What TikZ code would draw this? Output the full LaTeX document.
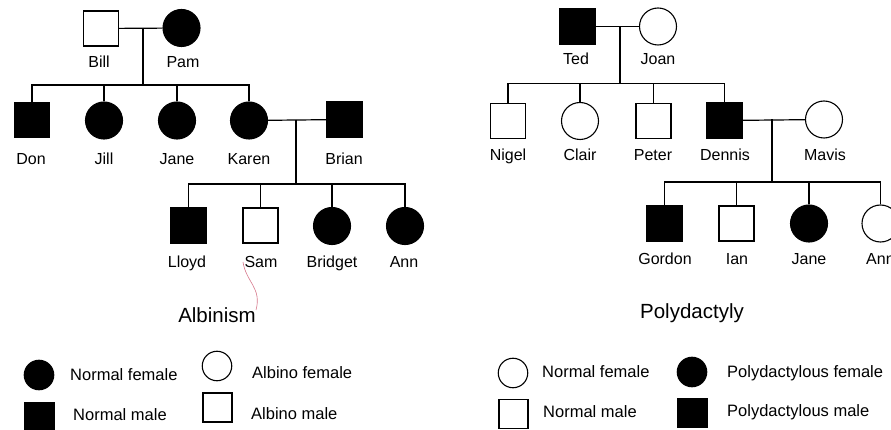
\documentclass[tikz,border=0pt]{standalone}
\usepackage{fontspec}
\setmainfont{Liberation Sans}
\tikzset{
  male/.style={draw, rectangle, line width=1.1pt, minimum size=35pt, inner sep=0pt},
  female/.style={draw, circle, line width=1.1pt, minimum size=37pt, inner sep=0pt},
  lmale/.style={draw, rectangle, line width=1.1pt, minimum size=29pt, inner sep=0pt},
  lfemale/.style={draw, circle, line width=1.1pt, minimum size=29.5pt, inner sep=0pt},
  aff/.style={fill=black},
  unaff/.style={fill=white},
  lbl/.style={font=\fontsize{16}{19}\selectfont, inner sep=0pt, anchor=base},
  ttl/.style={font=\fontsize{20.5}{24}\selectfont, inner sep=0pt, anchor=base},
  leg/.style={font=\fontsize{16.5}{19}\selectfont, inner sep=0pt, anchor=base west},
  link/.style={line width=1.2pt},
  penmark/.style={line width=0.6pt, draw={rgb,255:red,215;green,120;blue,140}},
}
\begin{document}
\begin{tikzpicture}[x=1pt,y=-1pt]
\useasboundingbox[fill=white] (0,0) rectangle (891,430);

% ---------------- Albinism pedigree ----------------
\node[male,unaff]   (bill)  at (101,28.5) {};
\node[female,aff]   (pam)   at (181.5,28) {};
\node[male,aff]     (don)   at (32,120) {};
\node[female,aff]   (jill)  at (104,120.5) {};
\node[female,aff]   (jane)  at (177,120.5) {};
\node[female,aff]   (karen) at (249,120.5) {};
\node[male,aff]     (brian) at (344.5,119.5) {};
\node[male,aff]     (lloyd) at (188.5,225.5) {};
\node[male,unaff]   (sam)   at (260.5,225.5) {};
\node[female,aff]   (bridget) at (332,226) {};
\node[female,aff]   (ann)   at (405,226) {};

\coordinate (m1) at (143,28);
\coordinate (b1) at (143,85);
\coordinate (m2) at (296,120);
\coordinate (b2) at (296,184);

\draw[link] (bill) -- (pam);
\draw[link] (m1) -- (b1);
\draw[link] (don.north) |- (b1) -| (karen.north);
\draw[link] (jill.north) -- (jill.north |- b1);
\draw[link] (jane.north) -- (jane.north |- b1);
\draw[link] (karen) -- (brian);
\draw[link] (m2) -- (b2);
\draw[link] (lloyd.north) |- (b2) -| (ann.north);
\draw[link] (sam.north) -- (sam.north |- b2);
\draw[link] (bridget.north) -- (bridget.north |- b2);

\node[lbl] (lbill)  at (99,68)  {Bill};
\node[lbl] (lpam)   at (183,68) {Pam};
\node[lbl] (ldon)   at (31,165) {Don};
\node[lbl] (ljill)  at (104,165) {Jill};
\node[lbl] (ljane)  at (177,165) {Jane};
\node[lbl] (lkaren) at (249,165) {Karen};
\node[lbl] (lbrian) at (344,165) {Brian};
\node[lbl] (llloyd) at (187,268) {Lloyd};
\node[lbl] (lsam)   at (261,268) {Sam};
\node[lbl] (lbridget) at (332,268) {Bridget};
\node[lbl] (lann)   at (404,268) {Ann};

\draw[penmark] (243,262) .. controls (246,282) and (262,288) .. (256,310);

\node[ttl] (albinism) at (217,322) {Albinism};

% legend (albinism)
\node[lfemale,aff]   (la1) at (39,375) {};
\node[leg] (la1t) at (70,380) {Normal female};
\node[lmale,aff]     (la2) at (39.5,417) {};
\node[leg] (la2t) at (73,420) {Normal male};
\node[lfemale,unaff] (la3) at (217,366) {};
\node[leg] (la3t) at (252,378) {Albino female};
\node[lmale,unaff]   (la4) at (217.5,407.5) {};
\node[leg] (la4t) at (251,419) {Albino male};

% ---------------- Polydactyly pedigree ----------------
\node[male,aff]     (ted)    at (577.5,26.5) {};
\node[female,unaff] (joan)   at (658,26.5) {};
\node[male,unaff]   (nigel)  at (508,121) {};
\node[female,unaff] (clair)  at (580,121) {};
\node[male,unaff]   (peter)  at (653.5,121) {};
\node[male,aff]     (dennis) at (724.5,120.5) {};
\node[female,unaff] (mavis)  at (824,119.5) {};
\node[male,aff]     (gordon) at (664.5,223.5) {};
\node[male,unaff]   (ian)    at (736.5,223.5) {};
\node[female,aff]   (jane2)  at (809,223.5) {};
\node[female,unaff] (ann2)   at (880.5,223.5) {};

\coordinate (m3) at (620,26.5);
\coordinate (b3) at (620,83.5);
\coordinate (m4) at (772,119.5);
\coordinate (b4) at (772,182);

\draw[link] (ted) -- (joan);
\draw[link] (m3) -- (b3);
\draw[link] (nigel.north) |- (b3) -| (dennis.north);
\draw[link] (clair.north) -- (clair.north |- b3);
\draw[link] (peter.north) -- (peter.north |- b3);
\draw[link] (dennis) -- (mavis);
\draw[link] (m4) -- (b4);
\draw[link] (gordon.north) |- (b4) -| (ann2.north);
\draw[link] (ian.north) -- (ian.north |- b4);
\draw[link] (jane2.north) -- (jane2.north |- b4);

\node[lbl] (lted)    at (576,65) {Ted};
\node[lbl] (ljoan)   at (658,65) {Joan};
\node[lbl] (lnigel)  at (508,161) {Nigel};
\node[lbl] (lclair)  at (580,161) {Clair};
\node[lbl] (lpeter)  at (653,161) {Peter};
\node[lbl] (ldennis) at (725,161) {Dennis};
\node[lbl] (lmavis)  at (825,161) {Mavis};
\node[lbl] (lgordon) at (665,265) {Gordon};
\node[lbl] (lian)    at (737,265) {Ian};
\node[lbl] (ljane2)  at (809,265) {Jane};
\node[lbl,anchor=base west] (lann2) at (866,265) {Ann};

\node[ttl] (poly) at (692,318) {Polydactyly};

% legend (polydactyly)
\node[lfemale,unaff] (lp1) at (513,373) {};
\node[leg] (lp1t) at (542,377) {Normal female};
\node[lmale,unaff]   (lp2) at (513.5,414) {};
\node[leg] (lp2t) at (543,417) {Normal male};
\node[lfemale,aff]   (lp3) at (692,372) {};
\node[leg] (lp3t) at (727,377) {Polydactylous female};
\node[lmale,aff]     (lp4) at (692.5,413) {};
\node[leg] (lp4t) at (727,416) {Polydactylous male};
\end{tikzpicture}
\end{document}
